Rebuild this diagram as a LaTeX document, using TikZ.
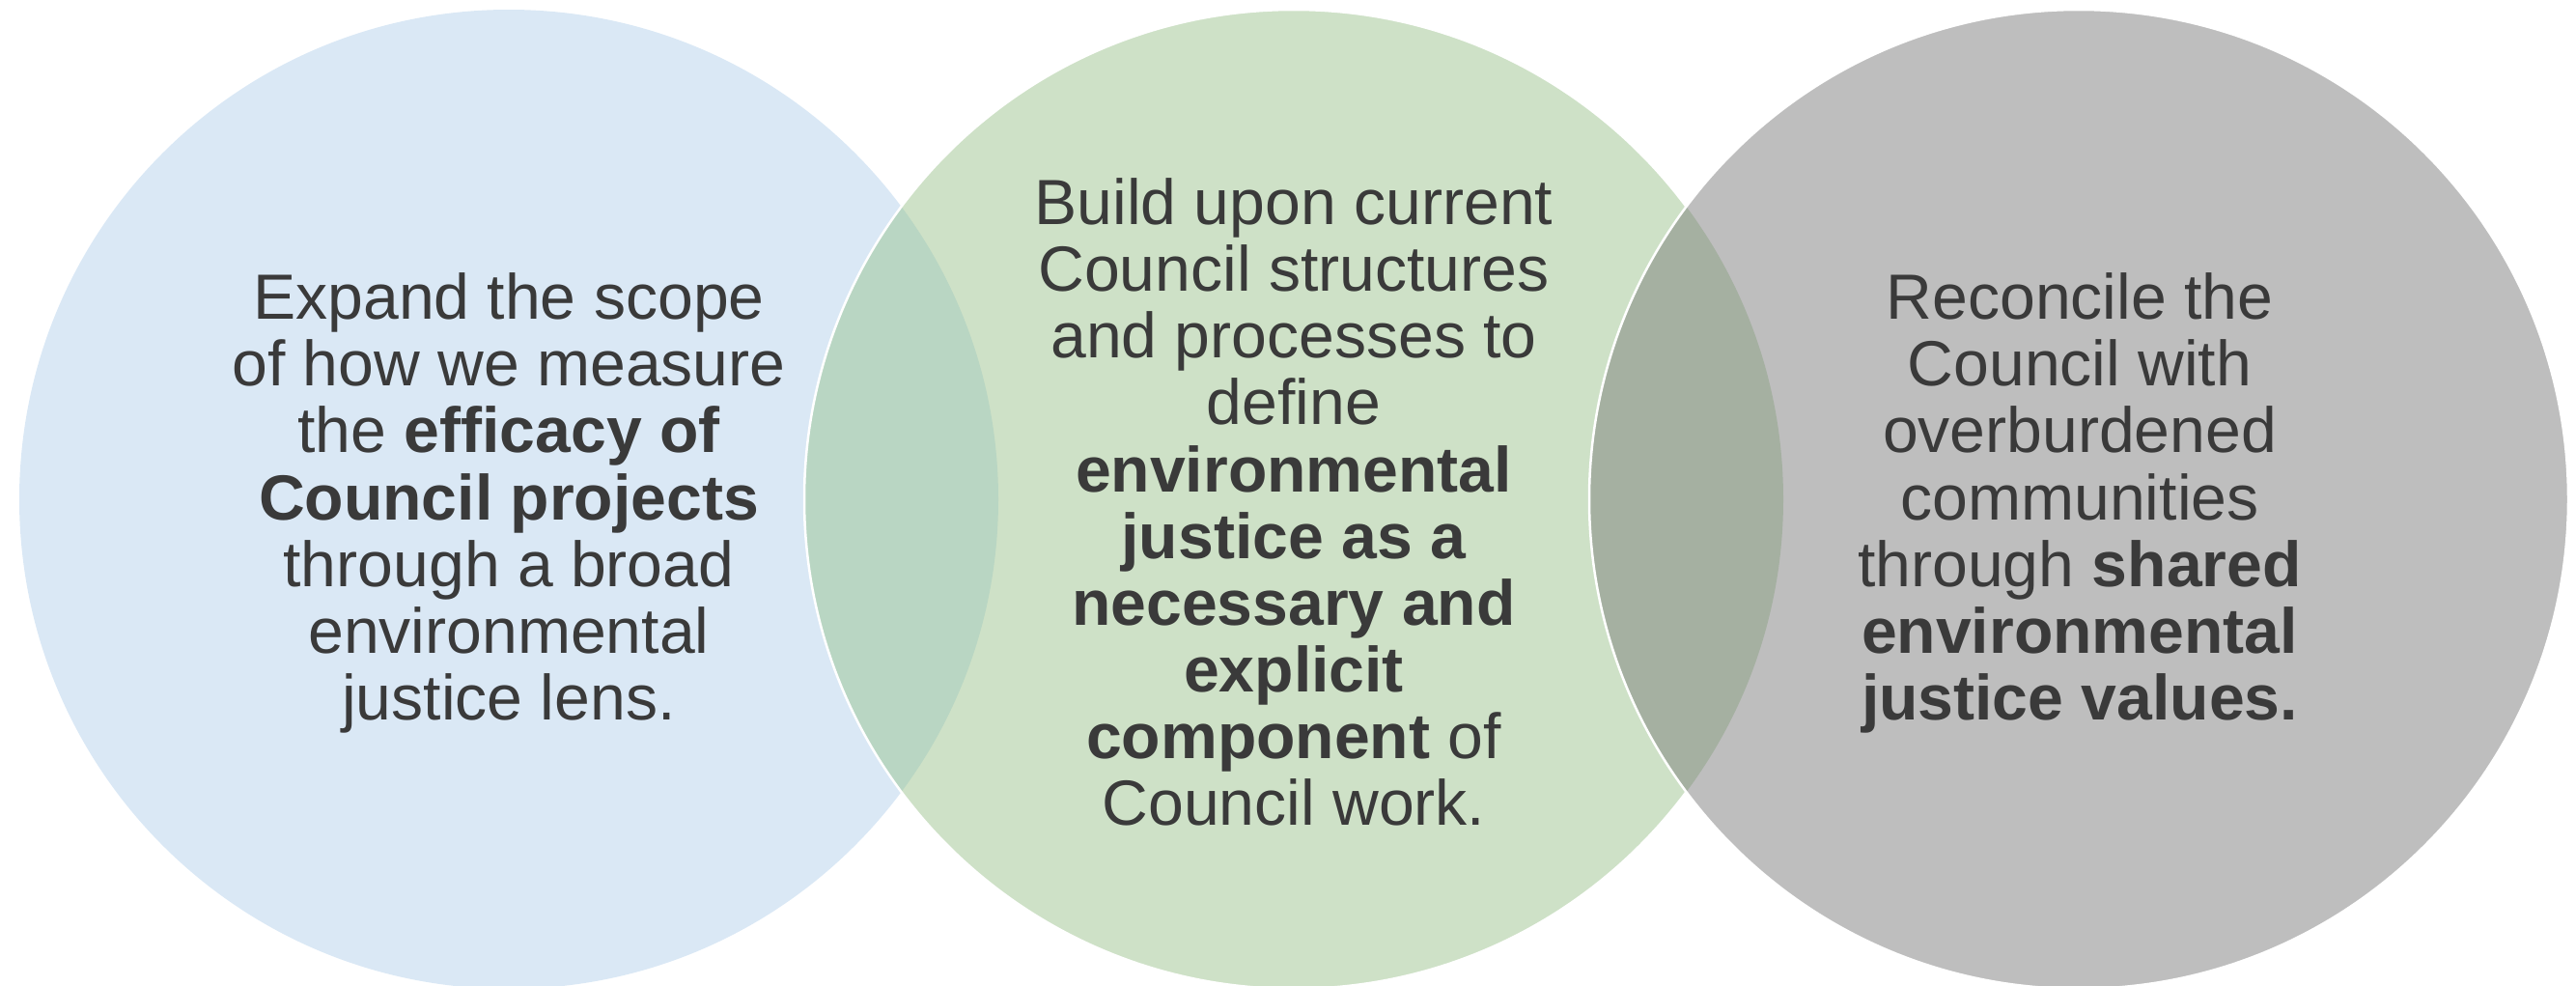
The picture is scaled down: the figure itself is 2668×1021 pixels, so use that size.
\documentclass[tikz,border=0pt]{standalone}
\usepackage{fontspec}
\setmainfont{Liberation Sans}
\definecolor{cblue}{HTML}{DAE8F5}
\definecolor{cgreen}{HTML}{CEE1C7}
\definecolor{cgray}{HTML}{BEBEBE}
\definecolor{cbg}{HTML}{B9D6C3}
\definecolor{cgg}{HTML}{A5B0A1}
\definecolor{ctext}{HTML}{3A3A3A}
\begin{document}
\begin{tikzpicture}[x=0.01cm,y=-0.01cm,
  rim/.style={draw=white,line width=0.025cm},
  txt/.style={text=ctext,align=center,font=\fontsize{18.8}{19.65}\selectfont,inner sep=0pt}]
\useasboundingbox (0,0) rectangle (2668,1021);
\def\R{507}
\coordinate (cA) at (527,517);
\coordinate (cB) at (1340,517);
\coordinate (cC) at (2153,517);
% blue
\fill[cblue] (cA) circle (\R);
% green
\fill[cgreen] (cB) circle (\R);
\begin{scope}
  \clip (cA) circle (\R);
  \fill[cbg] (cB) circle (\R);
\end{scope}
\draw[rim] (cB) circle (\R);
% gray
\fill[cgray] (cC) circle (\R);
\begin{scope}
  \clip (cB) circle (\R);
  \fill[cgg] (cC) circle (\R);
\end{scope}
\draw[rim] (cC) circle (\R);
% texts
\node[txt] (tA) at (527,521) {Expand the scope\\of how we measure\\the \textbf{efficacy of}\\\textbf{Council projects}\\through a broad\\environmental\\justice lens.};
\node[txt] (tB) at (1340,520) {Build upon current\\Council structures\\and processes to\\define\\\textbf{environmental}\\\textbf{justice as a}\\\textbf{necessary and}\\\textbf{explicit}\\\textbf{component} of\\Council work.};
\node[txt] (tC) at (2154,521) {Reconcile the\\Council with\\overburdened\\communities\\through \textbf{shared}\\\textbf{environmental}\\\textbf{justice values.}};
\end{tikzpicture}
\end{document}
